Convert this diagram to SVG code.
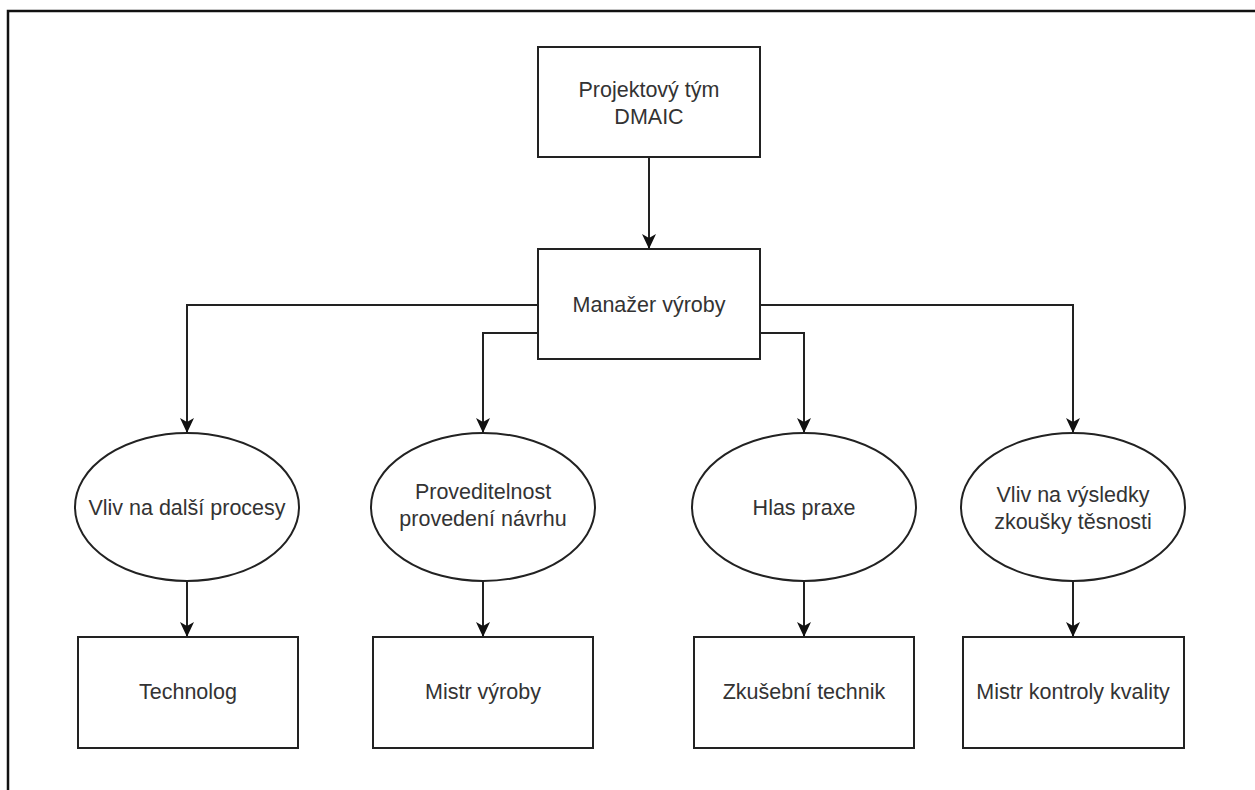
<svg xmlns="http://www.w3.org/2000/svg" width="1255" height="790" viewBox="0 0 1255 790">
<style>
.shape{fill:#fff;stroke:#222;stroke-width:2}
.conn{fill:none;stroke:#222;stroke-width:2;marker-end:url(#arr)}
text{font-family:"Liberation Sans",Arial,sans-serif;font-size:21.5px;fill:#333;text-anchor:middle;dominant-baseline:central}
</style>
<defs>
<marker id="arr" markerUnits="userSpaceOnUse" markerWidth="15" markerHeight="16" refX="15" refY="7" orient="auto" viewBox="0 0 15 14">
<path d="M0,0 L4,7 L0,14 L15,7 Z" fill="#111"/>
</marker>
</defs>
<rect x="8" y="11" width="1400" height="900" fill="none" stroke="#111" stroke-width="2.5"/>
<g id="connectors">
<path class="conn" d="M649,157 V249"/>
<path class="conn" d="M538,305 H187 V433"/>
<path class="conn" d="M538,333 H483 V433"/>
<path class="conn" d="M760,333 H804 V433"/>
<path class="conn" d="M760,305 H1073 V433"/>
<path class="conn" d="M187,581 V637"/>
<path class="conn" d="M483,581 V637"/>
<path class="conn" d="M804,581 V637"/>
<path class="conn" d="M1073,581 V637"/>
</g>
<g id="n-projekt"><rect class="shape" x="538" y="47" width="222" height="110"/><text x="649" y="90">Projektový tým</text><text x="649" y="117">DMAIC</text></g>
<g id="n-manazer"><rect class="shape" x="538" y="249" width="222" height="110"/><text x="649" y="305">Manažer výroby</text></g>
<g id="e-vliv"><ellipse class="shape" cx="187" cy="507" rx="112" ry="74"/><text x="187" y="508">Vliv na další procesy</text></g>
<g id="e-proved"><ellipse class="shape" cx="483" cy="507" rx="112" ry="74"/><text x="483" y="492">Proveditelnost</text><text x="483" y="519">provedení návrhu</text></g>
<g id="e-hlas"><ellipse class="shape" cx="804" cy="507" rx="112" ry="74"/><text x="804" y="508">Hlas praxe</text></g>
<g id="e-vysledky"><ellipse class="shape" cx="1073" cy="507" rx="112" ry="74"/><text x="1073" y="495">Vliv na výsledky</text><text x="1073" y="522">zkoušky těsnosti</text></g>
<g id="n-technolog"><rect class="shape" x="78" y="637" width="220" height="111"/><text x="188" y="692">Technolog</text></g>
<g id="n-mistr"><rect class="shape" x="373" y="637" width="220" height="111"/><text x="483" y="692">Mistr výroby</text></g>
<g id="n-zkusebni"><rect class="shape" x="694" y="637" width="220" height="111"/><text x="804" y="692">Zkušební technik</text></g>
<g id="n-kontrola"><rect class="shape" x="963" y="637" width="221" height="111"/><text x="1073" y="692">Mistr kontroly kvality</text></g>
</svg>
